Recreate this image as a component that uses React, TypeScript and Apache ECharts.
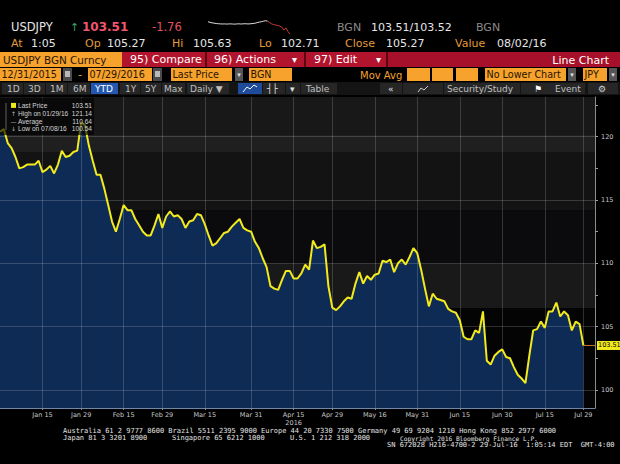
import { useEffect, useRef } from "react";
import * as echarts from "echarts";

// trading days shown on the axis (weekdays), plus 3 empty slots before the price axis
const monthDays: [string, number[]][] = [
  ["Dec", [31]],
  ["Jan", [1, 4, 5, 6, 7, 8, 11, 12, 13, 14, 15, 18, 19, 20, 21, 22, 25, 26, 27, 28, 29]],
  ["Feb", [1, 2, 3, 4, 5, 8, 9, 10, 11, 12, 15, 16, 17, 18, 19, 22, 23, 24, 25, 26, 29]],
  ["Mar", [1, 2, 3, 4, 7, 8, 9, 10, 11, 14, 15, 16, 17, 18, 21, 22, 23, 24, 25, 28, 29, 30, 31]],
  ["Apr", [1, 4, 5, 6, 7, 8, 11, 12, 13, 14, 15, 18, 19, 20, 21, 22, 25, 26, 27, 28, 29]],
  ["May", [2, 3, 4, 5, 6, 9, 10, 11, 12, 13, 16, 17, 18, 19, 20, 23, 24, 25, 26, 27, 30, 31]],
  ["Jun", [1, 2, 3, 6, 7, 8, 9, 10, 13, 14, 15, 16, 17, 20, 21, 22, 23, 24, 27, 28, 29, 30]],
  ["Jul", [1, 4, 5, 6, 7, 8, 11, 12, 13, 14, 15, 18, 19, 20, 21, 22, 25, 26, 27, 28, 29]],
  ["Aug", [1, 2, 3]],
];

const categories: string[] = monthDays.flatMap(([m, days]) => days.map((d) => `${m} ${d}`));

// USDJPY daily close, Dec 31 2015 - Jul 29 2016
const prices = [
  120.4, 120.6, 119.5, 119.1, 118.4, 117.5, 117.6, 117.8, 117.8, 117.8,
  118.1, 117.2, 117.4, 117.7, 117.1, 117.8, 118.9, 118.4, 118.5, 118.8,
  118.9, 121.14, 120.9, 119.3, 118.1, 117.0, 117.0, 115.9, 114.6, 113.3,
  112.5, 113.5, 114.6, 114.2, 114.2, 113.5, 113.0, 112.5, 112.2, 112.2,
  113.0, 113.9, 112.8, 113.7, 114.1, 113.7, 113.8, 113.5, 112.8, 113.3,
  113.4, 113.9, 113.8, 113.1, 112.2, 111.4, 111.6, 112.0, 112.4, 112.5,
  112.9, 113.2, 113.5, 112.8, 112.6, 112.5, 111.7, 111.2, 110.4, 109.7,
  108.2, 108.0, 107.9, 108.7, 109.4, 109.4, 108.8, 108.8, 109.2, 109.9,
  109.5, 111.8, 111.2, 111.3, 111.5, 108.2, 106.5, 106.3, 106.6, 107.0,
  107.3, 107.2, 108.4, 109.3, 108.4, 109.0, 108.7, 109.1, 109.2, 110.2,
  110.1, 110.3, 109.3, 110.0, 110.3, 109.9, 110.5, 111.2, 110.8, 109.5,
  108.0, 106.6, 107.6, 107.2, 107.1, 107.0, 106.4, 106.2, 106.1, 105.5,
  104.2, 104.0, 104.0, 104.7, 104.5, 106.2, 102.3, 102.0, 102.7, 103.0,
  103.2, 102.6, 102.5, 101.8, 101.2, 100.9, 100.54, 102.7, 104.7, 104.8,
  105.4, 104.9, 106.2, 106.2, 106.9, 105.8, 106.2, 105.9, 104.7, 105.4,
  105.2, 103.51,
];

const labelDates = [
  "Jan 15", "Jan 29", "Feb 15", "Feb 29", "Mar 15", "Mar 31", "Apr 15",
  "Apr 29", "May 16", "May 31", "Jun 15", "Jun 30", "Jul 15", "Jul 29",
];
const yLabels = [100, 105, 110, 115, 120];
const yTicks = [100, 102.5, 105, 107.5, 110, 112.5, 115, 117.5, 120, 122.5];

// intraday sparkline in the header
const sparkWhite = [
  105.31, 105.22, 105.15, 105.1, 105.05, 105.02, 105.0, 104.98, 105.0, 104.97,
  104.99, 105.0, 104.98, 104.96, 104.99, 105.01, 104.98, 105.0, 105.02, 105.0,
  104.99, 105.03, 105.05, 105.1, 105.18, 105.25, 105.31, 105.38, 105.45, 105.4,
];
const sparkRed = [105.4, 105.2, 105.0, 104.9, 104.84, 104.75, 104.7, 104.5, 104.12, 104.4, 103.9, 103.51];

const legendRows: [string, string, string][] = [
  ["", "Last Price", "103.51"],
  ["↑", "High on 01/29/16", "121.14"],
  ["—", "Average", "110.64"],
  ["↓", "Low on 07/08/16", "100.54"],
];

// background shading bands of the plot (value ranges)
const bandRanges: [number, number][] = [
  [120.2, 123.14], [118.79, 120.2], [114.2, 118.79], [110.0, 114.2], [106.47, 110.0], [98.57, 106.47],
];
const bandColors = ["#181818", "#1f1f1f", "#131313", "#0b0b0d", "#191919", "#040404"];

const SANS = "DejaVu Sans";
const NARROW = "Liberation Sans";
const MONO = "DejaVu Sans Mono";
const ORANGE = "#f6a22c";
const LABEL = "#e39b3a";
const DARK = "#2a1400";

function txt(x: number, y: number, text: string, fill: string, size: number, extra: any = {}) {
  return {
    type: "text",
    x,
    y,
    silent: true,
    z: extra.z ?? 10,
    style: {
      text,
      fill,
      fontSize: size,
      fontFamily: extra.font ?? SANS,
      fontWeight: extra.weight ?? "normal",
      textAlign: extra.align ?? "left",
      textVerticalAlign: "middle",
    },
  };
}

function box(x: number, y: number, w: number, h: number, fill: string, z = 5) {
  return { type: "rect", silent: true, z, shape: { x, y, width: w, height: h }, style: { fill } };
}

function headerElements() {
  const els: any[] = [];
  // row 1
  els.push(txt(11, 27, "USDJPY", "#e6e6e6", 11.5));
  els.push(txt(70, 27, "↑", "#3aa66a", 11));
  els.push(txt(82, 27, "103.51", "#f0566e", 12, { weight: "bold" }));
  els.push(txt(152, 27, "-1.76", "#e0505f", 11.5));
  els.push(txt(337, 27, "BGN", "#8a8a8a", 11));
  els.push(txt(371, 27, "103.51/103.52", "#e6e6e6", 11));
  els.push(txt(476, 27, "BGN", "#8a8a8a", 11));
  // row 2
  const row2: [number, string, string][] = [
    [11, "At", LABEL], [31, "1:05", "#e6e6e6"], [85, "Op", LABEL], [107, "105.27", "#e6e6e6"],
    [172, "Hi", LABEL], [193, "105.63", "#e6e6e6"], [259, "Lo", LABEL], [281, "102.71", "#e6e6e6"],
    [345, "Close", LABEL], [386, "105.27", "#e6e6e6"], [455, "Value", LABEL], [497, "08/02/16", "#e6e6e6"],
  ];
  row2.forEach(([x, t, c]) => els.push(txt(x, 43, t, c, 11)));
  // row 3: security + red menu bar
  els.push(box(0, 52, 122, 15, ORANGE));
  els.push(txt(3, 59.5, "USDJPY BGN Curncy", DARK, 10.4));
  els.push(box(122, 52, 498, 15, "#a6102a"));
  els.push(box(122, 52, 264, 15, "#b3142d", 6));
  [205, 304, 386].forEach((x) => els.push(box(x, 52, 2, 15, "#5c0612", 7)));
  els.push(txt(130, 59.5, "95) Compare", "#ffffff", 11));
  els.push(txt(214, 59.5, "96) Actions", "#ffffff", 11));
  els.push(txt(292, 59.5, "▾", "#ffffff", 10));
  els.push(txt(314, 59.5, "97) Edit", "#ffffff", 11));
  els.push(txt(376, 59.5, "▾", "#ffffff", 10));
  els.push(txt(609, 60, "Line Chart", "#ffffff", 11, { align: "right" }));
  // row 4: inputs
  const inputs: [number, number, string][] = [
    [0, 61, "12/31/2015"], [88, 64, "07/29/2016"], [171, 61, "Last Price"], [249, 43, "BGN"],
    [407, 23, ""], [432, 21, ""], [456, 22, ""], [485, 81, "No Lower Chart"], [583, 24, "JPY"],
  ];
  inputs.forEach(([x, w, t]) => {
    els.push(box(x, 68, w, 13, ORANGE));
    if (t) els.push(txt(x + 1.5, 74.8, t, DARK, 9.6));
  });
  [63, 153].forEach((x) => {
    els.push(box(x, 68, 9, 13, "#4a4a4a"));
    els.push(box(x + 2, 71, 5, 6, "#b8b8b8", 6));
  });
  [235, 568, 609].forEach((x) => {
    els.push(box(x, 68, 8, 13, "#555555"));
    els.push(txt(x + 4, 74.5, "▾", "#e0e0e0", 7, { align: "center" }));
  });
  els.push(txt(78, 74.5, "-", ORANGE, 11));
  els.push(txt(360, 75, "Mov Avg", ORANGE, 10));
  // row 5: toolbar
  els.push(box(0, 82, 620, 13, "#141414"));
  const buttons: [number, number, string][] = [
    [2, 21, "#262626"], [24, 21, "#262626"], [46, 21, "#262626"], [68, 22, "#262626"],
    [91, 27, "#2458b0"], [120, 20, "#262626"], [141, 20, "#262626"], [162, 23, "#262626"],
    [187, 42, "#262626"], [238, 24, "#1e4c9a"], [263, 22, "#262626"], [286, 14, "#262626"],
    [301, 36, "#262626"], [380, 22, "#262626"], [403, 40, "#262626"], [444, 76, "#262626"],
    [521, 64, "#262626"], [588, 30, "#262626"],
  ];
  buttons.forEach(([x, w, c]) => els.push(box(x, 83, w, 11, c, 6)));
  const tools: [number, string, string][] = [
    [7, "1D", "#c0c0c0"], [28, "3D", "#c0c0c0"], [50, "1M", "#c0c0c0"], [73, "6M", "#c0c0c0"],
    [95, "YTD", "#ffffff"], [125, "1Y", "#c0c0c0"], [145, "5Y", "#c0c0c0"], [164, "Max", "#c0c0c0"],
    [190, "Daily ▼", "#c0c0c0"], [267, "┤├", "#e0e0e0"], [290, "▾", "#e0e0e0"], [306, "Table", "#c0c0c0"],
    [388, "«", "#e0e0e0"], [447, "Security/Study", "#c0c0c0"], [534, "⚑", "#ffffff"],
    [555, "Event", "#c0c0c0"], [598, "⚙", "#d0d0d0"],
  ];
  tools.forEach(([x, t, c]) => els.push(txt(x, 88.8, t, c, 9, { z: 8 })));
  els.push({
    type: "polyline", silent: true, z: 8,
    shape: { points: [[243, 92], [247, 87], [250, 89], [254, 85], [257, 87]] },
    style: { stroke: "#ffffff", lineWidth: 1, fill: "none" },
  });
  els.push({
    type: "polyline", silent: true, z: 8,
    shape: { points: [[418, 92], [421, 88], [424, 90], [428, 86]] },
    style: { stroke: "#d0d0d0", lineWidth: 1, fill: "none" },
  });
  return els;
}

function legendElements() {
  const els: any[] = [];
  els.push({
    type: "rect", silent: true, z: 100,
    shape: { x: 0, y: 98, width: 94, height: 37 },
    style: { fill: "rgba(0,0,0,0.62)" },
  });
  els.push({
    type: "line", silent: true, z: 101,
    shape: { x1: 6, y1: 103, x2: 6, y2: 130 },
    style: { stroke: "#777777", lineWidth: 0.8 },
  });
  legendRows.forEach(([glyph, name, value], i) => {
    const y = 105.5 + i * 7.8;
    if (i === 0) {
      els.push({ type: "rect", silent: true, z: 102, shape: { x: 11, y: y - 2.6, width: 5, height: 5 }, style: { fill: "#f2ea1d" } });
    } else {
      els.push(txt(13.5, y, glyph, "#bdbdbd", 6, { align: "center", z: 102 }));
    }
    els.push(txt(18, y, name, "#d4d4d4", 6.6, { z: 102, font: NARROW }));
    els.push(txt(92, y, value, "#d4d4d4", 6.6, { align: "right", z: 102, font: NARROW }));
  });
  return els;
}

function footerElements() {
  const c = "#e4e4e4";
  return [
    txt(63, 431, "Australia 61 2 9777 8600 Brazil 5511 2395 9000 Europe 44 20 7330 7500 Germany 49 69 9204 1210 Hong Kong 852 2977 6000", c, 7, { font: MONO }),
    txt(63, 438, "Japan 81 3 3201 8900", c, 7, { font: MONO }),
    txt(172, 438, "Singapore 65 6212 1000", c, 7, { font: MONO }),
    txt(290, 438, "U.S. 1 212 318 2000", c, 7, { font: MONO }),
    txt(400, 438, "Copyright 2016 Bloomberg Finance L.P.", c, 6.2, { font: MONO }),
    txt(387, 445, "SN 672028 H216-4700-2 29-Jul-16  1:05:14 EDT  GMT-4:00", c, 7, { font: MONO }),
  ];
}

export default function App() {
  const chartRef = useRef<HTMLDivElement | null>(null);

  useEffect(() => {
    if (!chartRef.current) {
      return;
    }
    const chart = echarts.init(chartRef.current, undefined, { renderer: "svg" });
    const labelSet = new Set(labelDates);
    const lastIndex = prices.length - 1;
    const lastPrice = prices[lastIndex];

    chart.setOption({
      animation: false,
      backgroundColor: "#000000",
      grid: [
        { left: 0, right: 25, top: 97, bottom: 56, containLabel: false, outerBoundsMode: "none" },
        { left: 208, top: 19, width: 82, height: 16, containLabel: false, outerBoundsMode: "none" },
      ],
      xAxis: [
        {
          type: "category",
          gridIndex: 0,
          data: categories,
          boundaryGap: false,
          axisLine: { lineStyle: { color: "#6f86a6", width: 1 } },
          axisTick: {
            show: true,
            length: 2,
            interval: (_i: number, v: string) => labelSet.has(v),
            lineStyle: { color: "#8a8a8a" },
          },
          axisLabel: {
            interval: (_i: number, v: string) => labelSet.has(v),
            formatter: (v: string) => (v === "Apr 15" ? "Apr 15\n2016" : v),
            color: "#c8c8c8",
            fontSize: 6.5,
            fontFamily: SANS,
            lineHeight: 8,
            margin: 3,
          },
          splitLine: { show: false },
        },
        { type: "value", gridIndex: 1, min: 0, max: 40, show: false },
      ],
      yAxis: [
        {
          type: "value",
          gridIndex: 0,
          position: "right",
          min: 98.57,
          max: 123.14,
          axisLine: { show: true, lineStyle: { color: "#8c8c8c" } },
          axisTick: { show: true, customValues: yTicks, length: 3, lineStyle: { color: "#9a9a9a" } },
          axisLabel: { customValues: yLabels, color: "#c8c8c8", fontSize: 6.5, fontFamily: SANS, margin: 6 },
          splitLine: { show: false },
        },
        { type: "value", gridIndex: 1, min: 103.4, max: 105.7, show: false },
      ],
      series: [
        {
          name: "bands",
          type: "line",
          data: prices,
          symbol: "none",
          silent: true,
          z: 0,
          lineStyle: { opacity: 0 },
          markArea: {
            silent: true,
            z: 0,
            data: bandRanges.map(([lo, hi], i) => [
              { yAxis: hi, itemStyle: { color: bandColors[i] } },
              { yAxis: lo },
            ]),
          },
        },
        {
          name: "area",
          type: "line",
          data: prices,
          symbol: "none",
          silent: true,
          z: 2,
          lineStyle: { width: 0, opacity: 0 },
          areaStyle: { color: "#0e2b56", opacity: 1 },
          markLine: {
            silent: true,
            z: 3,
            symbol: ["none", "none"],
            label: { show: false },
            lineStyle: { color: "rgba(255,255,255,0.17)", width: 1, type: "solid" },
            data: [
              ...labelDates.map((d) => ({ xAxis: categories.indexOf(d) })),
              ...yLabels.map((v) => ({ yAxis: v })),
            ],
          },
        },
        {
          name: "USDJPY",
          type: "line",
          data: prices,
          symbol: "none",
          z: 4,
          lineStyle: { color: "#f2ea1d", width: 2 },
          markLine: {
            silent: true,
            z: 5,
            symbol: ["none", "none"],
            lineStyle: { color: "#c4702a", width: 1, type: "solid" },
            label: {
              show: true,
              position: "end",
              formatter: lastPrice.toFixed(2),
              backgroundColor: "#f2ea1d",
              color: "#000000",
              fontSize: 6.5,
              fontFamily: SANS,
              padding: [1, 1, 1, 1],
              distance: 2,
            },
            data: [[{ coord: [lastIndex, lastPrice] }, { coord: [categories.length - 1, lastPrice] }]],
          },
        },
        {
          type: "line",
          xAxisIndex: 1,
          yAxisIndex: 1,
          data: sparkWhite.map((v, i) => [i, v]),
          symbol: "none",
          silent: true,
          lineStyle: { color: "#dddddd", width: 1 },
        },
        {
          type: "line",
          xAxisIndex: 1,
          yAxisIndex: 1,
          data: sparkRed.map((v, i) => [i + sparkWhite.length - 1, v]),
          symbol: "none",
          silent: true,
          lineStyle: { color: "#cc3a3a", width: 1 },
        },
      ],
      graphic: [...headerElements(), ...legendElements(), ...footerElements()],
    });

    return () => {
      chart.dispose();
    };
  }, []);

  return (
    <div
      ref={chartRef}
      style={{ position: "absolute", left: 0, top: 0, width: 620, height: 464, background: "#000" }}
    />
  );
}
